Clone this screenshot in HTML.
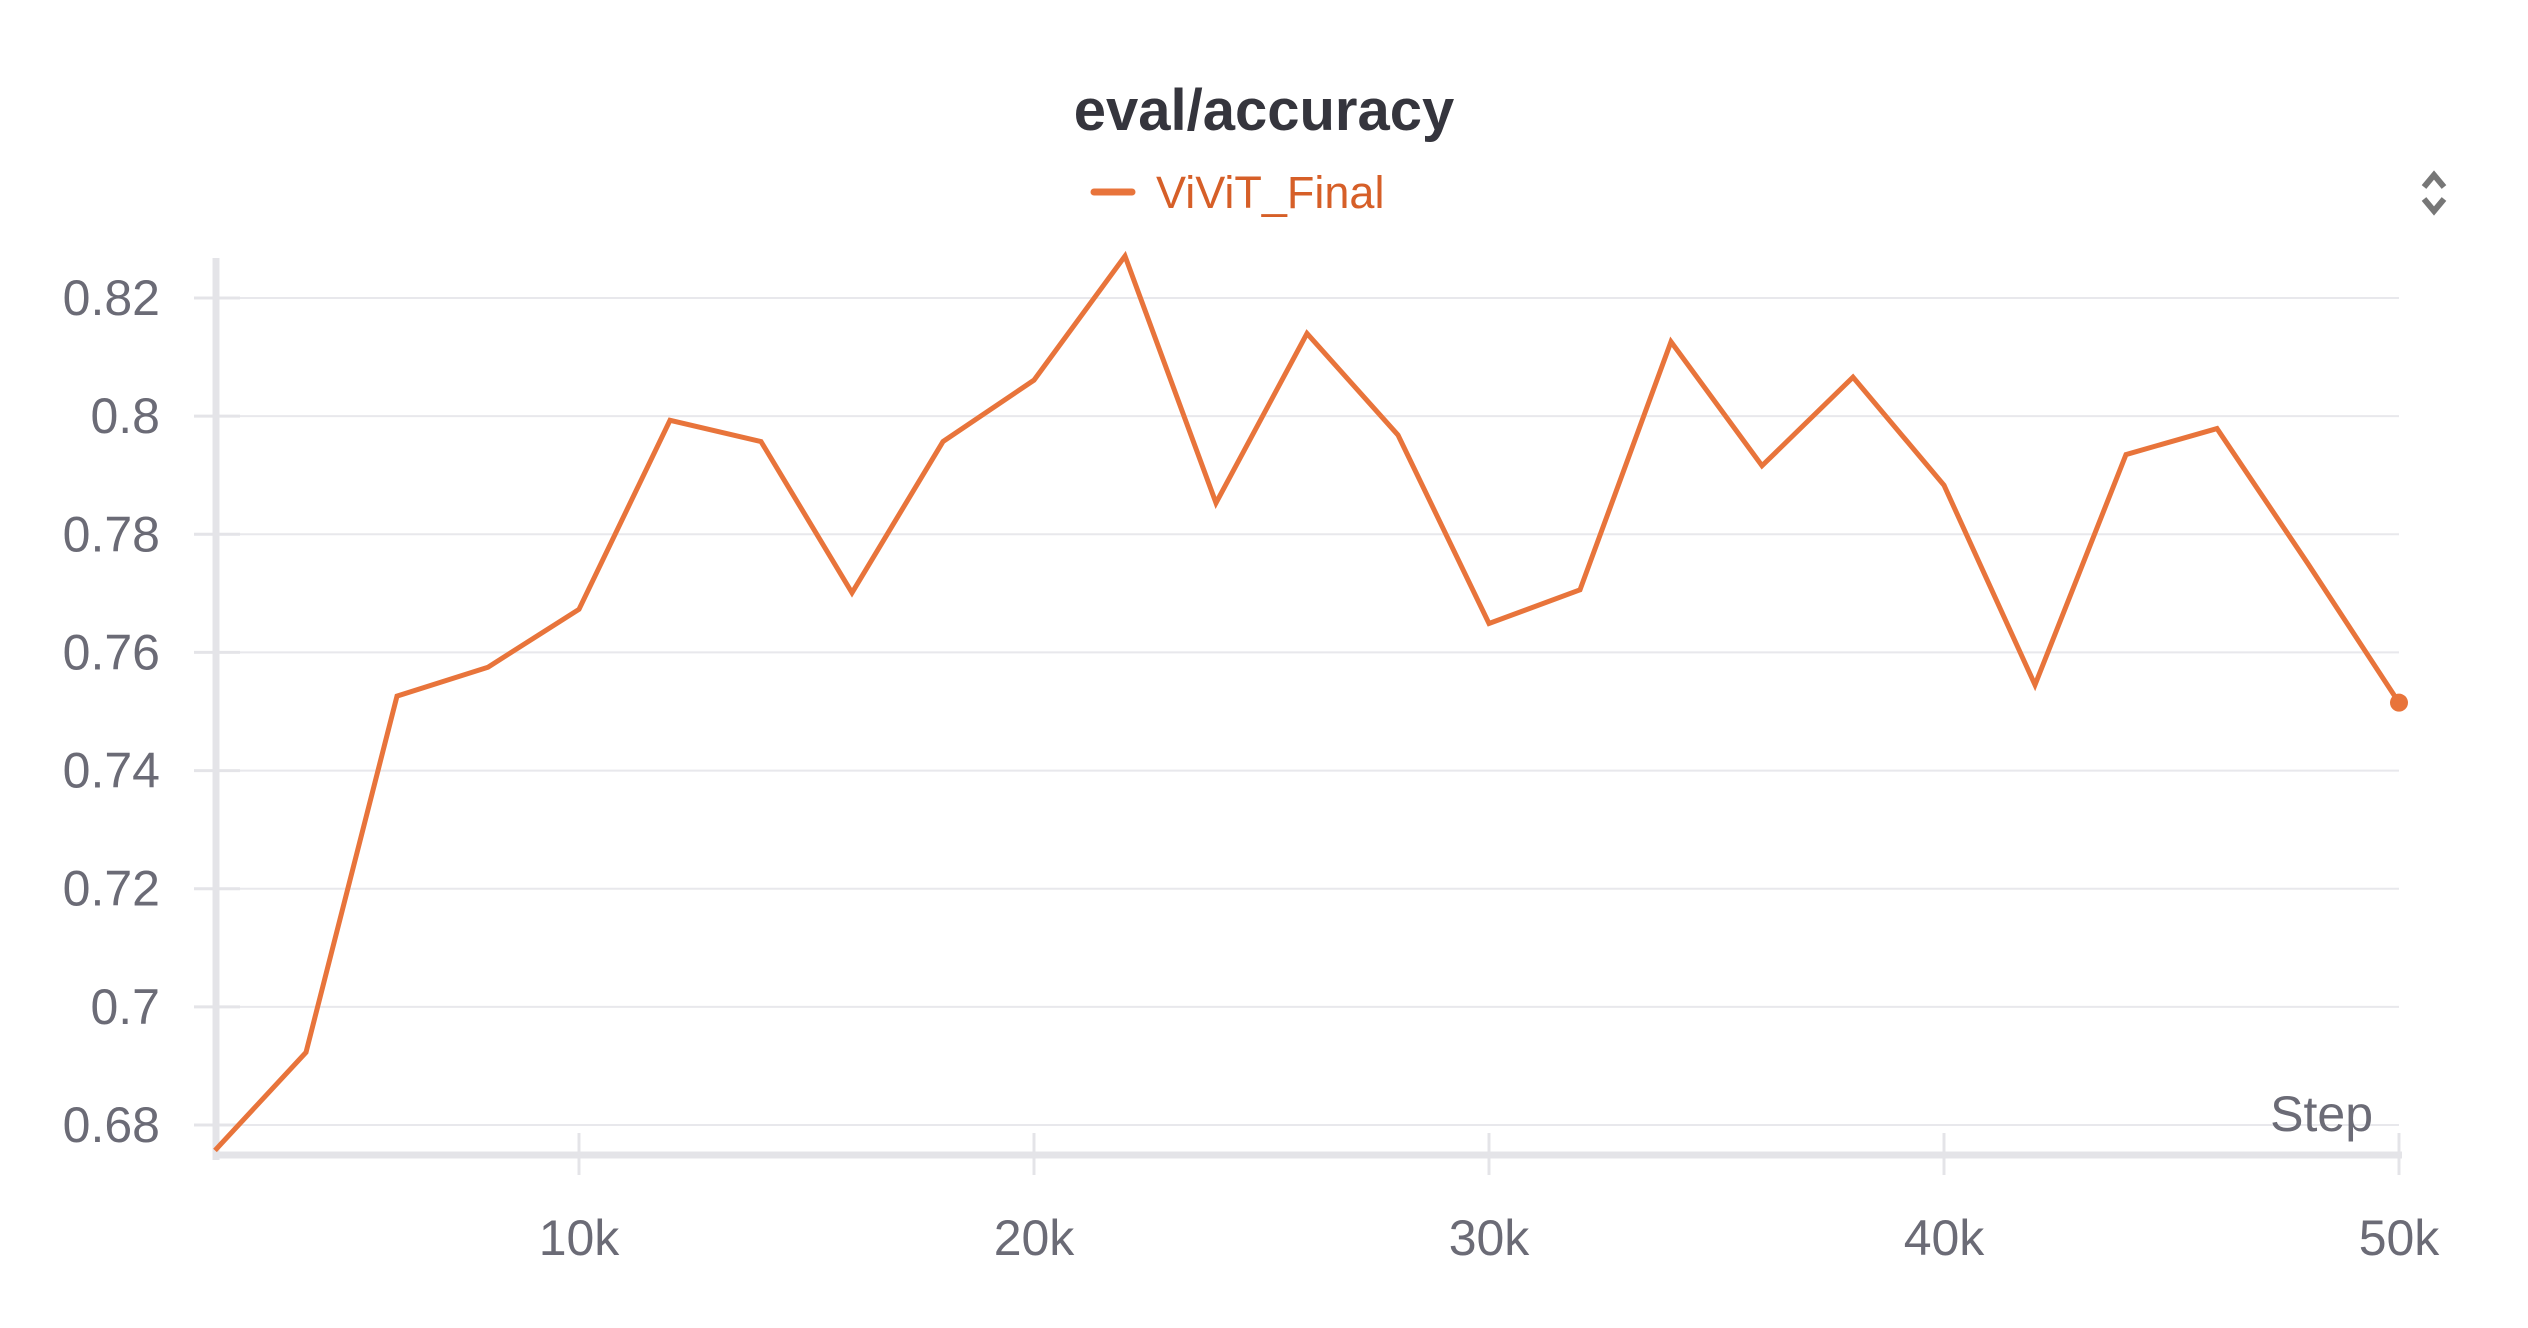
<!DOCTYPE html>
<html><head><meta charset="utf-8"><style>
html,body{margin:0;padding:0;background:#fff;}
svg{display:block;font-family:"Liberation Sans",sans-serif;}
</style></head><body>
<svg id="chart" width="2528" height="1328" viewBox="0 0 2528 1328" xmlns="http://www.w3.org/2000/svg">
<text x="1264" y="130" text-anchor="middle" font-size="58" font-weight="bold" fill="#35353d">eval/accuracy</text>
<g>
<line x1="1094" y1="192" x2="1132" y2="192" stroke="#e8743b" stroke-width="7" stroke-linecap="round"/>
<text x="1156" y="208" font-size="45" fill="#d65f28">ViViT_Final</text>
</g>
<g transform="translate(2434,193)">
<path d="M-10,-6 L0,-18 L10,-6 M-10,6 L0,18 L10,6" fill="none" stroke="#777" stroke-width="6"/>
</g>
<g id="grid"></g>
<g id="axes"></g>
<g id="series"></g>
<text x="2373" y="1131" text-anchor="end" font-size="50" fill="#6b6b76">Step</text>
</svg>
<script>
const steps = [2000,4000,6000,8000,10000,12000,14000,16000,18000,20000,22000,24000,26000,28000,30000,32000,34000,36000,38000,40000,42000,44000,46000,48000,50000];
const accuracy = [0.6757,0.6923,0.7526,0.7575,0.7673,0.7993,0.7957,0.7701,0.7957,0.8061,0.8271,0.7853,0.814,0.7968,0.7649,0.7706,0.8126,0.7916,0.8066,0.7883,0.7545,0.7935,0.7979,0.775,0.7515];
const yTicks = [0.68,0.7,0.72,0.74,0.76,0.78,0.8,0.82];
const yTickLabels = ["0.68","0.7","0.72","0.74","0.76","0.78","0.8","0.82"];
const xTicks = [10000,20000,30000,40000,50000];
const xTickLabels = ["10k","20k","30k","40k","50k"];

const NS = "http://www.w3.org/2000/svg";
const x = v => 579 + (v - 10000) / 40000 * (2399 - 579);
const y = v => 1125 - (v - 0.68) / 0.14 * (1125 - 298);
function mk(tag, attrs, parent){const e=document.createElementNS(NS,tag);for(const k in attrs)e.setAttribute(k,attrs[k]);parent.appendChild(e);return e;}
const grid=document.getElementById('grid'), axes=document.getElementById('axes'), series=document.getElementById('series');
yTicks.forEach((t,i)=>{
  const g=mk('line',{x1:216,x2:2399,y1:y(t),y2:y(t),stroke:'#e8e8ec','stroke-width':2},grid);
  
  
  const tk=mk('line',{x1:194,x2:240,y1:y(t),y2:y(t),stroke:'#e4e4e8','stroke-width':3},axes);
  
  
  const lb=mk('text',{x:160,y:y(t)+17,'text-anchor':'end','font-size':50,fill:'#6b6b76'},axes);
  lb.textContent=yTickLabels[i];
  
  
});
const ya=mk('line',{x1:216,x2:216,y1:258,y2:1160,stroke:'#e4e4e8','stroke-width':7},axes);


const xa=mk('line',{x1:216,x2:2402,y1:1155,y2:1155,stroke:'#e4e4e8','stroke-width':7},axes);


xTicks.forEach((t,i)=>{
  const tk=mk('line',{x1:x(t),x2:x(t),y1:1133,y2:1175,stroke:'#e4e4e8','stroke-width':3},axes);
  
  
  const lb=mk('text',{x:x(t),y:1255,'text-anchor':'middle','font-size':50,fill:'#6b6b76'},axes);
  lb.textContent=xTickLabels[i];
  
  
});
const pts=steps.map((s,i)=>x(s)+','+y(accuracy[i])).join(' ');
const pl=mk('polyline',{points:pts,fill:'none',stroke:'#e8743b','stroke-width':5,'stroke-linejoin':'miter'},series);


const n=steps.length-1;
const dot=mk('circle',{cx:x(steps[n]),cy:y(accuracy[n]),r:9,fill:'#e8743b'},series);


</script>
</body></html>
